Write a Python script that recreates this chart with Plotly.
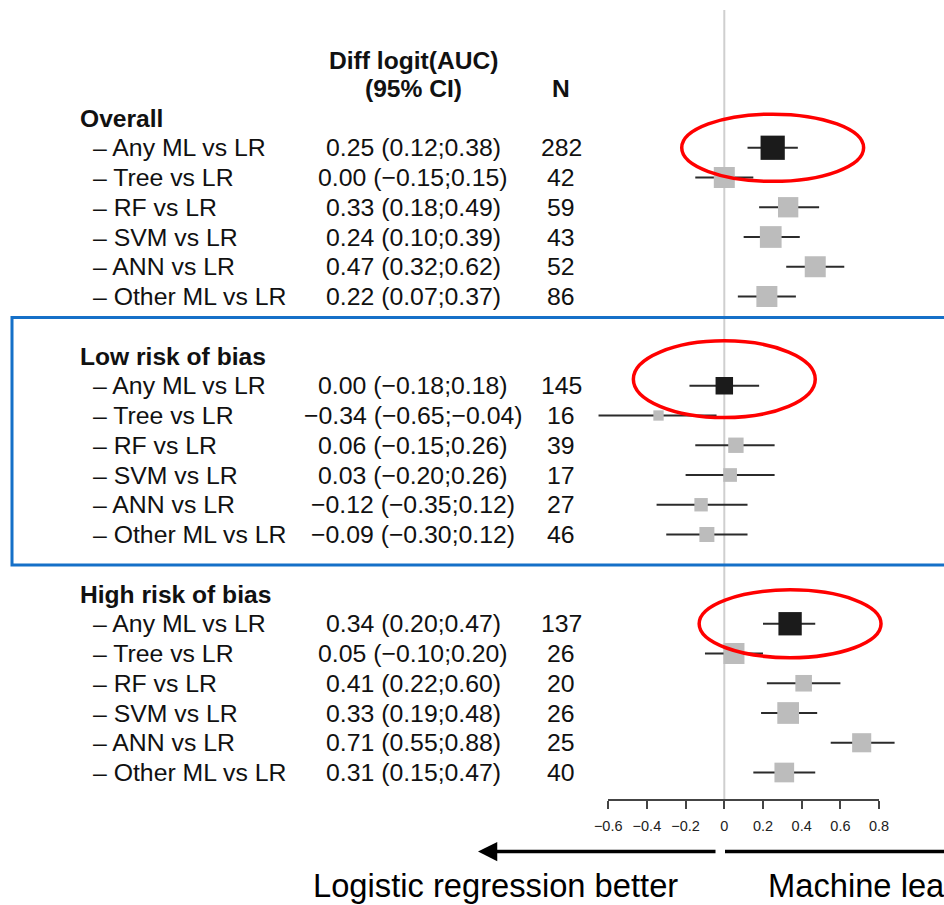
import plotly.graph_objects as go

# ---- data -----------------------------------------------------------------
groups = ["Overall", "Low risk of bias", "High risk of bias"]
comparisons = ["Any ML vs LR", "Tree vs LR", "RF vs LR", "SVM vs LR",
               "ANN vs LR", "Other ML vs LR"]

est_overall = [0.25, 0.00, 0.33, 0.24, 0.47, 0.22]
lo_overall = [0.12, -0.15, 0.18, 0.10, 0.32, 0.07]
hi_overall = [0.38, 0.15, 0.49, 0.39, 0.62, 0.37]
n_overall = [282, 42, 59, 43, 52, 86]

est_low = [0.00, -0.34, 0.06, 0.03, -0.12, -0.09]
lo_low = [-0.18, -0.65, -0.15, -0.20, -0.35, -0.30]
hi_low = [0.18, -0.04, 0.26, 0.26, 0.12, 0.12]
n_low = [145, 16, 39, 17, 27, 46]

est_high = [0.34, 0.05, 0.41, 0.33, 0.71, 0.31]
lo_high = [0.20, -0.10, 0.22, 0.19, 0.55, 0.15]
hi_high = [0.47, 0.20, 0.60, 0.48, 0.88, 0.47]
n_high = [137, 26, 20, 26, 25, 40]

tick_vals = [-0.6, -0.4, -0.2, 0.0, 0.2, 0.4, 0.6, 0.8]

group_data = [
    (est_overall, lo_overall, hi_overall, n_overall),
    (est_low, lo_low, hi_low, n_low),
    (est_high, lo_high, hi_high, n_high),
]

# ---- layout geometry ------------------------------------------------------
W, H = 944, 905
ZERO_PX, UNIT_PX = 724.3, 193.5      # pixel of x = 0, pixels per unit
ROW0_PX, ROW_PX = 118.0, 29.75        # pixel of first row, row pitch
FONT = "Liberation Sans, Arial, Helvetica, sans-serif"
TXT = 24.8       # table body text
TXT_B = 24.6     # bold headings

x_range = [(0 - ZERO_PX) / UNIT_PX, (W - ZERO_PX) / UNIT_PX]
y_range = [(H - ROW0_PX) / ROW_PX, (0 - ROW0_PX) / ROW_PX]


def slot(px):
    return (px - ROW0_PX) / ROW_PX


def paper_x(px):
    return px / W


def paper_y(px):
    return 1 - px / H


def fmt(v):
    return f"{v:.2f}".replace("-", "\u2212")


fig = go.Figure()
annotations = []
shapes = []

# zero reference line
shapes.append(dict(type="line", xref="x", yref="y", x0=0, x1=0,
                   y0=slot(10), y1=slot(800), layer="below",
                   line=dict(color="#cfcfcf", width=2)))

ci_x, ci_y = [], []
box_x, box_y, box_s, box_c = [], [], [], []

for g, (name, (est, lo, hi, n)) in enumerate(zip(groups, group_data)):
    head = 8 * g
    annotations.append(dict(x=paper_x(78), y=head, xref="paper", yref="y",
                            text=f"<b>{name}</b>", showarrow=False,
                            xanchor="left", yanchor="middle",
                            font=dict(size=TXT_B, color="#111")))
    for i, comp in enumerate(comparisons):
        row = head + 1 + i
        annotations.append(dict(x=paper_x(91), y=row, xref="paper", yref="y",
                                text=f"\u2013 {comp}", showarrow=False,
                                xanchor="left", yanchor="middle",
                                font=dict(size=TXT, color="#111")))
        annotations.append(dict(x=paper_x(413), y=row, xref="paper", yref="y",
                                text=f"{fmt(est[i])} ({fmt(lo[i])};{fmt(hi[i])})",
                                showarrow=False, xanchor="center",
                                yanchor="middle",
                                font=dict(size=TXT, color="#111")))
        annotations.append(dict(x=paper_x(561), y=row, xref="paper", yref="y",
                                text=str(n[i]), showarrow=False,
                                xanchor="center", yanchor="middle",
                                font=dict(size=TXT, color="#111")))
        ci_x += [lo[i], hi[i], None]
        ci_y += [row, row, None]
        box_x.append(est[i])
        box_y.append(row)
        box_s.append(6.3 / (hi[i] - lo[i]))
        box_c.append("#1b1b1b" if i == 0 else "#bcbcbc")

    # highlight ring around the pooled "Any ML" estimate
    off, half = [(0.0, 1.13), (-0.22, 1.29), (0.0, 1.14)][g]
    cy = head + 1 + off
    shapes.append(dict(type="circle", xref="x", yref="y", layer="above",
                       x0=est[0] - 0.47, x1=est[0] + 0.47,
                       y0=cy - half, y1=cy + half,
                       line=dict(color="#ff0000", width=3.5)))

fig.add_trace(go.Scatter(x=ci_x, y=ci_y, mode="lines",
                         line=dict(color="#2b2b2b", width=2),
                         hoverinfo="skip", showlegend=False))
fig.add_trace(go.Scatter(x=box_x, y=box_y, mode="markers",
                         marker=dict(symbol="square", size=box_s, opacity=1,
                                     color=box_c, line=dict(width=0)),
                         hoverinfo="skip", showlegend=False))

# carrier trace for the tick axis
fig.add_trace(go.Scatter(x=tick_vals, y=[None] * len(tick_vals),
                         xaxis="x2", yaxis="y", mode="markers",
                         hoverinfo="skip", showlegend=False))

# column headers
annotations += [
    dict(x=paper_x(413), y=slot(60), xref="paper", yref="y",
         text="<b>Diff logit(AUC)</b>", showarrow=False,
         xanchor="center", yanchor="middle", font=dict(size=TXT_B, color="#111")),
    dict(x=paper_x(413), y=slot(88), xref="paper", yref="y",
         text="<b>(95% CI)</b>", showarrow=False,
         xanchor="center", yanchor="middle", font=dict(size=TXT_B, color="#111")),
    dict(x=paper_x(561), y=slot(88), xref="paper", yref="y",
         text="<b>N</b>", showarrow=False,
         xanchor="center", yanchor="middle", font=dict(size=TXT_B, color="#111")),
]

# direction arrows and captions
arrow_y = slot(851.5)
annotations.append(dict(x=(478 - ZERO_PX) / UNIT_PX, y=arrow_y,
                        ax=(717 - ZERO_PX) / UNIT_PX, ay=arrow_y,
                        xref="x", yref="y", axref="x", ayref="y",
                        text="", showarrow=True, arrowhead=2,
                        arrowsize=1.1, arrowwidth=3.5, arrowcolor="#000"))
shapes.append(dict(type="line", xref="x", yref="y",
                   x0=(725 - ZERO_PX) / UNIT_PX, x1=x_range[1] + 0.3,
                   y0=arrow_y, y1=arrow_y, line=dict(color="#000", width=3.5)))
annotations.append(dict(x=paper_x(495), y=paper_y(885), xref="paper",
                        yref="paper", text="Logistic regression better",
                        showarrow=False, xanchor="center", yanchor="middle",
                        font=dict(size=32.7, color="#000")))
annotations.append(dict(x=paper_x(766), y=paper_y(885), xref="paper",
                        yref="paper", text="Machine learning better",
                        showarrow=False, xanchor="left", yanchor="middle",
                        font=dict(size=32.7, color="#000")))

# frame around the low-risk subgroup
shapes.append(dict(type="rect", xref="paper", yref="paper",
                   x0=paper_x(12), x1=paper_x(990),
                   y0=paper_y(317.5), y1=paper_y(565),
                   line=dict(color="#1570c8", width=3)))

span = x_range[1] - x_range[0]
fig.update_layout(
    width=W, height=H,
    margin=dict(l=0, r=0, t=0, b=0, pad=0, autoexpand=False),
    paper_bgcolor="white", plot_bgcolor="rgba(0,0,0,0)",
    font=dict(family=FONT, color="#111"),
    xaxis=dict(range=x_range, visible=False, fixedrange=True),
    yaxis=dict(range=y_range, visible=False, fixedrange=True),
    xaxis2=dict(domain=[(-0.6 - x_range[0]) / span, (0.8 - x_range[0]) / span],
                range=[-0.6, 0.8], anchor="free", position=paper_y(800),
                showline=True, linecolor="#444", linewidth=1.5,
                ticks="outside", ticklen=8, tickwidth=1.5, tickcolor="#444",
                tickvals=tick_vals,
                ticktext=["0" if v == 0 else f"{v:.1f}".replace("-", "\u2212")
                          for v in tick_vals],
                tickfont=dict(size=14.5, color="#222"),
                ticklabelstandoff=5,
                showgrid=False, zeroline=False, fixedrange=True),
    annotations=annotations,
    shapes=shapes,
)

fig.write_html("out.html")
